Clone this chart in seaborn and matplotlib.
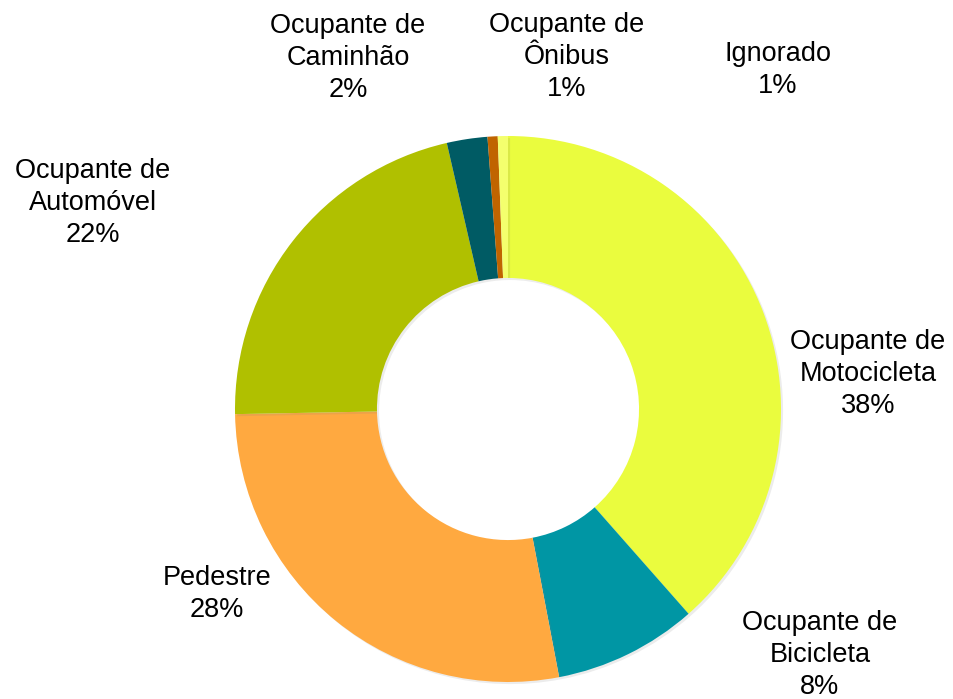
import matplotlib
matplotlib.use("Agg")
import matplotlib.pyplot as plt
import matplotlib.patheffects as pe
import seaborn as sns

# Données
categorias = ["Ocupante de\nMotocicleta", "Ocupante de\nBicicleta", "Pedestre",
              "Ocupante de\nAutomóvel", "Ocupante de\nCaminhão", "Ocupante de\nÔnibus",
              "Ignorado"]
valores = [38.5, 8.5, 27.7, 21.7, 2.4, 0.6, 0.6]
cores = ["#EAFC3E", "#0096A4", "#FFA940", "#B0C000", "#005B64", "#C06400", "#F4FF6E"]

# positions des étiquettes en pixels (centre du texte)
label_px = [(868, 374), (820, 655), (217, 594), (93, 203), (348, 58), (567, 57), (778, 70)]

W, H = 954, 699
CX, CY, R = 508, 409, 273

sns.set_theme(style="white")
plt.rcParams["font.family"] = ["Liberation Sans", "DejaVu Sans"]

fig = plt.figure(figsize=(W / 100, H / 100), dpi=100)
ax = fig.add_axes([0, 0, 1, 1])

wedges, _ = ax.pie(valores, colors=cores, startangle=90, counterclock=False,
                   radius=1.0, wedgeprops=dict(width=0.52, linewidth=0))
for w in wedges:
    w.set_path_effects([pe.SimplePatchShadow(offset=(1.5, -1.5), shadow_rgbFace="0.5", alpha=0.15),
                        pe.Normal()])

for cat, v, (px, py) in zip(categorias, valores, label_px):
    ax.text((px - CX) / R, (CY - py) / R, f"{cat}\n{v:.0f}%", ha="center", va="center",
            fontsize=19.5, linespacing=1.32, color="black")

ax.set_xlim(-CX / R, (W - CX) / R)
ax.set_ylim(-(H - CY) / R, CY / R)
ax.set_aspect("equal")
ax.axis("off")

fig.savefig("out.png", dpi=100, facecolor="white")
